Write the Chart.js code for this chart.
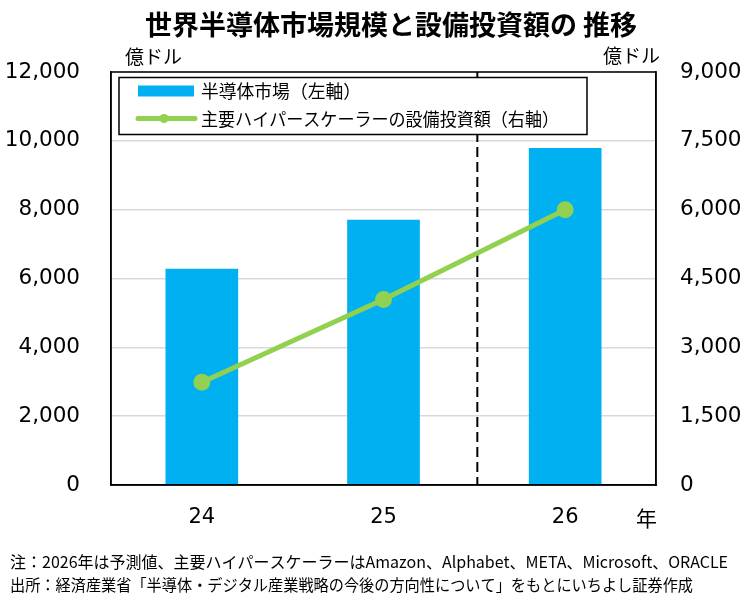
<!DOCTYPE html>
<html lang="ja">
<head>
  <meta charset="UTF-8" />
  <title>世界半導体市場規模と設備投資額の推移</title>
  <script src="https://cdn.jsdelivr.net/npm/chart.js"></script>
  <style>
    html, body {
      margin: 0;
      padding: 0;
      background: #fff;
    }
    #wrap {
      width: 750px;
      height: 600px;
      position: relative;
    }
  </style>
</head>
<body>
  <div id="wrap"><canvas id="chart"></canvas></div>

  <script>
    const years = ["24", "25", "26"];
    const marketSize = [6280, 7710, 9790];   // 左軸（億ドル）
    const capex = [2240, 4040, 6000];        // 右軸（億ドル）
    const leftTicks = [0, 2000, 4000, 6000, 8000, 10000, 12000];
    const rightTicks = [0, 1500, 3000, 4500, 6000, 7500, 9000];

    const JP = '"Noto Sans CJK JP", "Noto Sans", sans-serif';
    const NUM = '"DejaVu Sans", sans-serif';

    // extra texts, dashed separator and the boxed legend
    const decorations = {
      id: "decorations",
      beforeDatasetsDraw(chart) {
        const { ctx, chartArea, scales } = chart;
        const x = (scales.x.getPixelForValue(1) + scales.x.getPixelForValue(2)) / 2 + 3;
        ctx.save();
        ctx.strokeStyle = "#000";
        ctx.lineWidth = 2;
        ctx.setLineDash([10, 5]);
        ctx.beginPath();
        ctx.moveTo(x, chartArea.top);
        ctx.lineTo(x, chartArea.bottom);
        ctx.stroke();
        ctx.restore();
      },
      afterDraw(chart) {
        const { ctx, chartArea } = chart;
        ctx.save();

        // plot frame
        ctx.strokeStyle = "#000";
        ctx.lineWidth = 1.5;
        ctx.strokeRect(chartArea.left, chartArea.top, chartArea.right - chartArea.left, chartArea.bottom - chartArea.top);

        // legend
        const lx = chartArea.left + 8, ly = chartArea.top + 5.5;
        ctx.fillStyle = "#fff";
        ctx.fillRect(lx, ly, 468, 57);
        ctx.strokeRect(lx, ly, 468, 57);
        const bar = chart.data.datasets[0], line = chart.data.datasets[1];
        ctx.fillStyle = bar.backgroundColor;
        ctx.fillRect(lx + 19, ly + 8, 56, 11);
        ctx.strokeStyle = line.borderColor;
        ctx.lineWidth = 5;
        ctx.lineCap = "round";
        ctx.beginPath();
        ctx.moveTo(lx + 19, ly + 41);
        ctx.lineTo(lx + 76, ly + 41);
        ctx.stroke();
        ctx.fillStyle = line.borderColor;
        ctx.beginPath();
        ctx.arc(lx + 45, ly + 41, 4.5, 0, Math.PI * 2);
        ctx.fill();
        ctx.fillStyle = "#000";
        ctx.font = "18px " + JP;
        ctx.textBaseline = "middle";
        ctx.textAlign = "left";
        ctx.fillText(bar.label, lx + 82, ly + 14, 160);
        ctx.fillText(line.label, lx + 82, ly + 42, 358);

        // title
        ctx.font = "bold 27px " + JP;
        ctx.textAlign = "center";
        ctx.fillText("世界半導体市場規模と設備投資額の 推移", 391, 25, 505);

        // units
        ctx.font = "19px " + JP;
        ctx.textAlign = "left";
        ctx.fillText("億ドル", 125, 57, 58);
        ctx.textAlign = "right";
        ctx.fillText("億ドル", 660, 56, 58);

        // x unit
        ctx.font = "21px " + JP;
        ctx.textAlign = "left";
        ctx.fillText("年", 636, 518);

        // notes
        ctx.font = "16px " + JP;
        ctx.fillText("注：2026年は予測値、主要ハイパースケーラーはAmazon、Alphabet、META、Microsoft、ORACLE", 10, 562, 720);
        ctx.fillText("出所：経済産業省「半導体・デジタル産業戦略の今後の方向性について」をもとにいちよし証券作成", 10, 585, 683);
        ctx.restore();
      }
    };

    new Chart(document.getElementById("chart"), {
      data: {
        labels: years,
        datasets: [
          {
            type: "bar",
            label: "半導体市場（左軸）",
            data: marketSize,
            yAxisID: "y",
            backgroundColor: "#00B0F0",
            barPercentage: 0.4,
            categoryPercentage: 1,
            order: 2
          },
          {
            type: "line",
            label: "主要ハイパースケーラーの設備投資額（右軸）",
            data: capex,
            yAxisID: "y2",
            borderColor: "#92D050",
            backgroundColor: "#92D050",
            borderWidth: 5,
            pointRadius: 6,
            pointHoverRadius: 6,
            tension: 0,
            order: 1
          }
        ]
      },
      options: {
        responsive: true,
        maintainAspectRatio: false,
        animation: false,
        layout: { padding: { top: 72, left: 0, right: 0, bottom: 0 } },
        plugins: {
          legend: { display: false },
          tooltip: { enabled: false }
        },
        scales: {
          x: {
            grid: { display: false, drawTicks: false },
            border: { display: true, color: "#000", width: 1.5 },
            ticks: { color: "#000", font: { family: NUM, size: 21 }, padding: 20 },
            afterFit: s => { s.height = 115; }
          },
          y: {
            position: "left",
            min: 0,
            max: 12000,
            afterBuildTicks: s => { s.ticks = leftTicks.map(v => ({ value: v })); },
            ticks: {
              color: "#000",
              font: { family: NUM, size: 21.5 },
              padding: 31,
              callback: v => v.toLocaleString("en-US")
            },
            grid: { color: "#d9d9d9", lineWidth: 1.5, drawTicks: false },
            border: { display: true, color: "#000", width: 1.5 },
            afterFit: s => { s.width = 111; }
          },
          y2: {
            position: "right",
            min: 0,
            max: 9000,
            afterBuildTicks: s => { s.ticks = rightTicks.map(v => ({ value: v })); },
            ticks: {
              color: "#000",
              font: { family: NUM, size: 21.5 },
              padding: 24,
              callback: v => v.toLocaleString("en-US")
            },
            grid: { drawOnChartArea: false, drawTicks: false },
            border: { display: true, color: "#000", width: 1.5 },
            afterFit: s => { s.width = 94; }
          }
        }
      },
      plugins: [decorations]
    });
  </script>
</body>
</html>
